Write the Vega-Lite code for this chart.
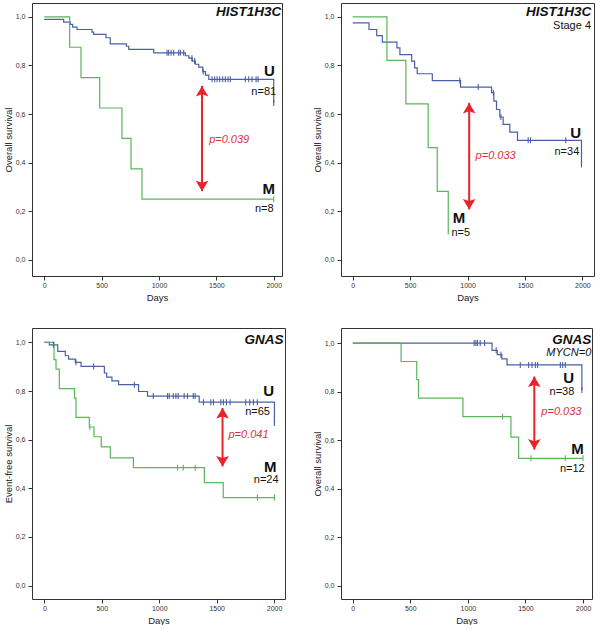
{
"$schema":"https://vega.github.io/schema/vega-lite/v6.json",
"padding":{"left":2,"top":2,"right":0,"bottom":0},
"background":"white",
"config":{"font":"Liberation Sans","view":{"stroke":"#333","strokeWidth":1},
"axis":{"labelFontSize":7,"labelColor":"#333","titleFontSize":9.5,"titleFontWeight":"normal","titleColor":"#222","tickColor":"#333","tickSize":4,"domain":false,"grid":false,"titlePadding":3},
"axisX":{"labelPadding":1,"titlePadding":4},"axisY":{"labelPadding":3,"titlePadding":2}},
"datasets":{
"curves":[
{"p":1,"g":"U","d":0,"s":0.99},{"p":1,"g":"U","d":169,"s":0.978},{"p":1,"g":"U","d":227,"s":0.969},{"p":1,"g":"U","d":247,"s":0.958},{"p":1,"g":"U","d":285,"s":0.948},{"p":1,"g":"U","d":416,"s":0.937},{"p":1,"g":"U","d":430,"s":0.928},{"p":1,"g":"U","d":538,"s":0.914},{"p":1,"g":"U","d":575,"s":0.889},{"p":1,"g":"U","d":715,"s":0.879},{"p":1,"g":"U","d":736,"s":0.866},{"p":1,"g":"U","d":954,"s":0.852},{"p":1,"g":"U","d":1230,"s":0.84},{"p":1,"g":"U","d":1260,"s":0.83},{"p":1,"g":"U","d":1290,"s":0.818},{"p":1,"g":"U","d":1317,"s":0.805},{"p":1,"g":"U","d":1346,"s":0.793},{"p":1,"g":"U","d":1381,"s":0.775},{"p":1,"g":"U","d":1405,"s":0.76},{"p":1,"g":"U","d":1434,"s":0.743},{"p":1,"g":"U","d":2000,"s":0.646},
{"p":1,"g":"M","d":0,"s":1},{"p":1,"g":"M","d":221,"s":0.875},{"p":1,"g":"M","d":320,"s":0.75},{"p":1,"g":"M","d":483,"s":0.625},{"p":1,"g":"M","d":677,"s":0.5},{"p":1,"g":"M","d":756,"s":0.375},{"p":1,"g":"M","d":852,"s":0.25},{"p":1,"g":"M","d":2000,"s":0.25},
{"p":2,"g":"U","d":0,"s":0.975},{"p":2,"g":"U","d":142,"s":0.948},{"p":2,"g":"U","d":209,"s":0.923},{"p":2,"g":"U","d":258,"s":0.896},{"p":2,"g":"U","d":385,"s":0.872},{"p":2,"g":"U","d":411,"s":0.845},{"p":2,"g":"U","d":513,"s":0.818},{"p":2,"g":"U","d":539,"s":0.79},{"p":2,"g":"U","d":562,"s":0.766},{"p":2,"g":"U","d":693,"s":0.738},{"p":2,"g":"U","d":939,"s":0.711},{"p":2,"g":"U","d":1209,"s":0.688},{"p":2,"g":"U","d":1229,"s":0.653},{"p":2,"g":"U","d":1252,"s":0.619},{"p":2,"g":"U","d":1281,"s":0.588},{"p":2,"g":"U","d":1310,"s":0.558},{"p":2,"g":"U","d":1368,"s":0.526},{"p":2,"g":"U","d":1435,"s":0.492},{"p":2,"g":"U","d":1992,"s":0.393},
{"p":2,"g":"M","d":0,"s":1},{"p":2,"g":"M","d":298,"s":0.821},{"p":2,"g":"M","d":463,"s":0.642},{"p":2,"g":"M","d":657,"s":0.462},{"p":2,"g":"M","d":736,"s":0.282},{"p":2,"g":"M","d":832,"s":0.105},
{"p":3,"g":"U","d":0,"s":1},{"p":3,"g":"U","d":43,"s":0.99},{"p":3,"g":"U","d":116,"s":0.963},{"p":3,"g":"U","d":182,"s":0.945},{"p":3,"g":"U","d":211,"s":0.931},{"p":3,"g":"U","d":269,"s":0.918},{"p":3,"g":"U","d":319,"s":0.901},{"p":3,"g":"U","d":522,"s":0.874},{"p":3,"g":"U","d":542,"s":0.857},{"p":3,"g":"U","d":588,"s":0.842},{"p":3,"g":"U","d":646,"s":0.826},{"p":3,"g":"U","d":820,"s":0.798},{"p":3,"g":"U","d":898,"s":0.779},{"p":3,"g":"U","d":1348,"s":0.754},{"p":3,"g":"U","d":2003,"s":0.668},
{"p":3,"g":"M","d":0,"s":1},{"p":3,"g":"M","d":84,"s":0.929},{"p":3,"g":"M","d":101,"s":0.89},{"p":3,"g":"M","d":130,"s":0.81},{"p":3,"g":"M","d":262,"s":0.771},{"p":3,"g":"M","d":275,"s":0.692},{"p":3,"g":"M","d":391,"s":0.652},{"p":3,"g":"M","d":432,"s":0.612},{"p":3,"g":"M","d":495,"s":0.57},{"p":3,"g":"M","d":574,"s":0.525},{"p":3,"g":"M","d":775,"s":0.485},{"p":3,"g":"M","d":1393,"s":0.423},{"p":3,"g":"M","d":1557,"s":0.362},{"p":3,"g":"M","d":2003,"s":0.362},
{"p":4,"g":"U","d":0,"s":1},{"p":4,"g":"U","d":1210,"s":0.97},{"p":4,"g":"U","d":1255,"s":0.952},{"p":4,"g":"U","d":1295,"s":0.935},{"p":4,"g":"U","d":1340,"s":0.91},{"p":4,"g":"U","d":1990,"s":0.806},
{"p":4,"g":"M","d":0,"s":1},{"p":4,"g":"M","d":420,"s":0.924},{"p":4,"g":"M","d":556,"s":0.849},{"p":4,"g":"M","d":571,"s":0.773},{"p":4,"g":"M","d":957,"s":0.697},{"p":4,"g":"M","d":1374,"s":0.612},{"p":4,"g":"M","d":1441,"s":0.525},{"p":4,"g":"M","d":2000,"s":0.525}
],
"cens":[
{"p":1,"g":"U","d":1070,"s":0.852},{"p":1,"g":"U","d":1084,"s":0.852},{"p":1,"g":"U","d":1105,"s":0.852},{"p":1,"g":"U","d":1128,"s":0.852},{"p":1,"g":"U","d":1171,"s":0.852},{"p":1,"g":"U","d":1186,"s":0.852},{"p":1,"g":"U","d":1215,"s":0.852},{"p":1,"g":"U","d":1287,"s":0.83},{"p":1,"g":"U","d":1311,"s":0.818},{"p":1,"g":"U","d":1385,"s":0.775},{"p":1,"g":"U","d":1462,"s":0.743},{"p":1,"g":"U","d":1485,"s":0.743},{"p":1,"g":"U","d":1506,"s":0.743},{"p":1,"g":"U","d":1529,"s":0.743},{"p":1,"g":"U","d":1555,"s":0.743},{"p":1,"g":"U","d":1578,"s":0.743},{"p":1,"g":"U","d":1602,"s":0.743},{"p":1,"g":"U","d":1622,"s":0.743},{"p":1,"g":"U","d":1753,"s":0.743},{"p":1,"g":"U","d":1782,"s":0.743},{"p":1,"g":"U","d":1811,"s":0.743},{"p":1,"g":"U","d":1846,"s":0.743},{"p":1,"g":"U","d":1863,"s":0.743},{"p":1,"g":"U","d":2000,"s":0.646},
{"p":1,"g":"M","d":2000,"s":0.25},
{"p":2,"g":"U","d":933,"s":0.738},{"p":2,"g":"U","d":1093,"s":0.711},{"p":2,"g":"U","d":1225,"s":0.688},{"p":2,"g":"U","d":1290,"s":0.588},{"p":2,"g":"U","d":1528,"s":0.492},{"p":2,"g":"U","d":1548,"s":0.492},{"p":2,"g":"U","d":1855,"s":0.492},{"p":2,"g":"U","d":1992,"s":0.393},
{"p":3,"g":"U","d":78,"s":0.99},{"p":3,"g":"U","d":275,"s":0.918},{"p":3,"g":"U","d":429,"s":0.901},{"p":3,"g":"U","d":783,"s":0.826},{"p":3,"g":"U","d":948,"s":0.779},{"p":3,"g":"U","d":1072,"s":0.779},{"p":3,"g":"U","d":1087,"s":0.779},{"p":3,"g":"U","d":1122,"s":0.779},{"p":3,"g":"U","d":1145,"s":0.779},{"p":3,"g":"U","d":1165,"s":0.779},{"p":3,"g":"U","d":1217,"s":0.779},{"p":3,"g":"U","d":1246,"s":0.779},{"p":3,"g":"U","d":1296,"s":0.779},{"p":3,"g":"U","d":1313,"s":0.779},{"p":3,"g":"U","d":1385,"s":0.754},{"p":3,"g":"U","d":1449,"s":0.754},{"p":3,"g":"U","d":1472,"s":0.754},{"p":3,"g":"U","d":1536,"s":0.754},{"p":3,"g":"U","d":1559,"s":0.754},{"p":3,"g":"U","d":1585,"s":0.754},{"p":3,"g":"U","d":1617,"s":0.754},{"p":3,"g":"U","d":1753,"s":0.754},{"p":3,"g":"U","d":1788,"s":0.754},{"p":3,"g":"U","d":1820,"s":0.754},{"p":3,"g":"U","d":1854,"s":0.754},{"p":3,"g":"U","d":2003,"s":0.668},
{"p":3,"g":"M","d":395,"s":0.652},{"p":3,"g":"M","d":1159,"s":0.485},{"p":3,"g":"M","d":1209,"s":0.485},{"p":3,"g":"M","d":1313,"s":0.485},{"p":3,"g":"M","d":1855,"s":0.362},{"p":3,"g":"M","d":2003,"s":0.362},
{"p":4,"g":"U","d":1055,"s":1},{"p":4,"g":"U","d":1070,"s":1},{"p":4,"g":"U","d":1084,"s":1},{"p":4,"g":"U","d":1107,"s":1},{"p":4,"g":"U","d":1145,"s":1},{"p":4,"g":"U","d":1246,"s":0.97},{"p":4,"g":"U","d":1287,"s":0.952},{"p":4,"g":"U","d":1455,"s":0.91},{"p":4,"g":"U","d":1528,"s":0.91},{"p":4,"g":"U","d":1557,"s":0.91},{"p":4,"g":"U","d":1586,"s":0.91},{"p":4,"g":"U","d":1606,"s":0.91},{"p":4,"g":"U","d":1803,"s":0.91},{"p":4,"g":"U","d":1823,"s":0.91},{"p":4,"g":"U","d":1846,"s":0.91},{"p":4,"g":"U","d":1990,"s":0.806},
{"p":4,"g":"M","d":1301,"s":0.697},{"p":4,"g":"M","d":1548,"s":0.525},{"p":4,"g":"M","d":1846,"s":0.525},{"p":4,"g":"M","d":2000,"s":0.525}
],
"labels":[
{"p":1,"k":"title","t":"HIST1H3C","d":2066,"s":1.003},{"p":1,"k":"big","t":"U","d":1963,"s":0.756},{"p":1,"k":"n","t":"n=81","d":1913,"s":0.678},{"p":1,"k":"big","t":"M","d":1956,"s":0.271},{"p":1,"k":"n","t":"n=8","d":1917,"s":0.199},{"p":1,"k":"pv","t":"p=0.039","d":1437,"s":0.482},
{"p":2,"k":"title","t":"HIST1H3C","d":2078,"s":1.003},{"p":2,"k":"sub","t":"Stage 4","d":2075,"s":0.952},{"p":2,"k":"big","t":"U","d":1942,"s":0.503},{"p":2,"k":"n","t":"n=34","d":1865,"s":0.432},{"p":2,"k":"big","t":"M","d":926,"s":0.152},{"p":2,"k":"n","t":"n=5","d":941,"s":0.1},{"p":2,"k":"pv","t":"p=0.033","d":1070,"s":0.414},
{"p":3,"k":"title","t":"GNAS","d":2081,"s":0.995},{"p":3,"k":"big","t":"U","d":1953,"s":0.781},{"p":3,"k":"n","t":"n=65","d":1856,"s":0.7},{"p":3,"k":"big","t":"M","d":1966,"s":0.469},{"p":3,"k":"n","t":"n=24","d":1931,"s":0.421},{"p":3,"k":"pv","t":"p=0.041","d":1603,"s":0.606},
{"p":4,"k":"title","t":"GNAS","d":2072,"s":0.997},{"p":4,"k":"subi","t":"MYCN=0","d":2072,"s":0.945},{"p":4,"k":"big","t":"U","d":1875,"s":0.835},{"p":4,"k":"n","t":"n=38","d":1817,"s":0.787},{"p":4,"k":"big","t":"M","d":1952,"s":0.543},{"p":4,"k":"n","t":"n=12","d":1907,"s":0.47},{"p":4,"k":"pv","t":"p=0.033","d":1638,"s":0.704}
],
"arrows":[
{"p":1,"d":1375,"s":0.716,"s2":0.283},{"p":2,"d":1014,"s":0.646,"s2":0.208},{"p":3,"d":1551,"s":0.73,"s2":0.49},{"p":4,"d":1577,"s":0.862,"s2":0.561}
],
"heads":[
{"p":1,"d":1375,"s":0.716,"dir":"up"},{"p":1,"d":1375,"s":0.283,"dir":"down"},
{"p":2,"d":1014,"s":0.646,"dir":"up"},{"p":2,"d":1014,"s":0.208,"dir":"down"},
{"p":3,"d":1551,"s":0.73,"dir":"up"},{"p":3,"d":1551,"s":0.49,"dir":"down"},
{"p":4,"d":1577,"s":0.862,"dir":"up"},{"p":4,"d":1577,"s":0.561,"dir":"down"}
]
},
"bounds":"flush",
"columns":2,
"spacing":{"row":52,"column":56},
"concat":[
{"width":250,"height":273,
"encoding":{"x":{"field":"d","type":"quantitative","scale":{"domain":[-107,2072],"nice":false,"zero":false},"axis":{"title":"Days","values":[0,500,1000,1500,2000],"format":"d"}},
"y":{"field":"s","type":"quantitative","scale":{"domain":[-0.066,1.057],"nice":false,"zero":false},"axis":{"title":"Overall survival","values":[0,0.2,0.4,0.6,0.8,1],"labelExpr":"replace(format(datum.value,'.1f'),'.',',')"}}},
"layer":[
{"data":{"name":"curves"},"transform":[{"filter":"datum.p==1"}],"mark":{"type":"line","interpolate":"step-after","strokeWidth":1.2},"encoding":{"color":{"field":"g","type":"nominal","scale":{"domain":["U","M"],"range":["#4b5fa6","#5bb55a"]},"legend":null}}},
{"data":{"name":"cens"},"transform":[{"filter":"datum.p==1"}],"mark":{"type":"tick","orient":"vertical","size":6,"thickness":1.1,"opacity":1},"encoding":{"color":{"field":"g","type":"nominal","scale":{"domain":["U","M"],"range":["#4b5fa6","#5bb55a"]},"legend":null}}},
{"data":{"name":"arrows"},"transform":[{"filter":"datum.p==1"}],"mark":{"type":"rule","color":"#e8232a","strokeWidth":2},"encoding":{"y2":{"field":"s2"}}},
{"data":{"name":"heads"},"transform":[{"filter":"datum.p==1"}],"mark":{"type":"point","filled":true,"size":144,"opacity":1,"color":"#e8232a","strokeWidth":0},"encoding":{"shape":{"field":"dir","type":"nominal","scale":{"domain":["up","down"],"range":["M0,0L1.05,1.75L0,1.4L-1.05,1.75Z","M0,0L1.05,-1.75L0,-1.4L-1.05,-1.75Z"]},"legend":null}}},
{"data":{"name":"labels"},"transform":[{"filter":"datum.p==1 && datum.k=='title'"}],"mark":{"type":"text","align":"right","baseline":"alphabetic","fontSize":13.5,"fontWeight":"bold","fontStyle":"italic","color":"#111"},"encoding":{"text":{"field":"t"}}},
{"data":{"name":"labels"},"transform":[{"filter":"datum.p==1 && datum.k=='big'"}],"mark":{"type":"text","align":"center","baseline":"alphabetic","fontSize":15,"fontWeight":"bold","color":"#111"},"encoding":{"text":{"field":"t"}}},
{"data":{"name":"labels"},"transform":[{"filter":"datum.p==1 && datum.k=='n'"}],"mark":{"type":"text","align":"center","baseline":"alphabetic","fontSize":11,"color":"#111"},"encoding":{"text":{"field":"t"}}},
{"data":{"name":"labels"},"transform":[{"filter":"datum.p==1 && datum.k=='pv'"}],"mark":{"type":"text","align":"left","baseline":"alphabetic","fontSize":11,"fontStyle":"italic","color":"#e0303c"},"encoding":{"text":{"field":"t"}}}
]},
{"width":253,"height":273,
"encoding":{"x":{"field":"d","type":"quantitative","scale":{"domain":[-102,2101],"nice":false,"zero":false},"axis":{"title":"Days","values":[0,500,1000,1500,2000],"format":"d"}},
"y":{"field":"s","type":"quantitative","scale":{"domain":[-0.066,1.057],"nice":false,"zero":false},"axis":{"title":"Overall survival","values":[0,0.2,0.4,0.6,0.8,1],"labelExpr":"replace(format(datum.value,'.1f'),'.',',')"}}},
"layer":[
{"data":{"name":"curves"},"transform":[{"filter":"datum.p==2"}],"mark":{"type":"line","interpolate":"step-after","strokeWidth":1.2},"encoding":{"color":{"field":"g","type":"nominal","scale":{"domain":["U","M"],"range":["#4b5fa6","#5bb55a"]},"legend":null}}},
{"data":{"name":"cens"},"transform":[{"filter":"datum.p==2"}],"mark":{"type":"tick","orient":"vertical","size":6,"thickness":1.1,"opacity":1},"encoding":{"color":{"field":"g","type":"nominal","scale":{"domain":["U","M"],"range":["#4b5fa6","#5bb55a"]},"legend":null}}},
{"data":{"name":"arrows"},"transform":[{"filter":"datum.p==2"}],"mark":{"type":"rule","color":"#e8232a","strokeWidth":2},"encoding":{"y2":{"field":"s2"}}},
{"data":{"name":"heads"},"transform":[{"filter":"datum.p==2"}],"mark":{"type":"point","filled":true,"size":144,"opacity":1,"color":"#e8232a","strokeWidth":0},"encoding":{"shape":{"field":"dir","type":"nominal","scale":{"domain":["up","down"],"range":["M0,0L1.05,1.75L0,1.4L-1.05,1.75Z","M0,0L1.05,-1.75L0,-1.4L-1.05,-1.75Z"]},"legend":null}}},
{"data":{"name":"labels"},"transform":[{"filter":"datum.p==2 && datum.k=='title'"}],"mark":{"type":"text","align":"right","baseline":"alphabetic","fontSize":13.5,"fontWeight":"bold","fontStyle":"italic","color":"#111"},"encoding":{"text":{"field":"t"}}},
{"data":{"name":"labels"},"transform":[{"filter":"datum.p==2 && datum.k=='sub'"}],"mark":{"type":"text","align":"right","baseline":"alphabetic","fontSize":11,"color":"#111"},"encoding":{"text":{"field":"t"}}},
{"data":{"name":"labels"},"transform":[{"filter":"datum.p==2 && datum.k=='big'"}],"mark":{"type":"text","align":"center","baseline":"alphabetic","fontSize":15,"fontWeight":"bold","color":"#111"},"encoding":{"text":{"field":"t"}}},
{"data":{"name":"labels"},"transform":[{"filter":"datum.p==2 && datum.k=='n'"}],"mark":{"type":"text","align":"center","baseline":"alphabetic","fontSize":11,"color":"#111"},"encoding":{"text":{"field":"t"}}},
{"data":{"name":"labels"},"transform":[{"filter":"datum.p==2 && datum.k=='pv'"}],"mark":{"type":"text","align":"left","baseline":"alphabetic","fontSize":11,"fontStyle":"italic","color":"#e0303c"},"encoding":{"text":{"field":"t"}}}
]},
{"width":253,"height":271,
"encoding":{"x":{"field":"d","type":"quantitative","scale":{"domain":[-108,2095],"nice":false,"zero":false},"axis":{"title":"Days","values":[0,500,1000,1500,2000],"format":"d"}},
"y":{"field":"s","type":"quantitative","scale":{"domain":[-0.055,1.059],"nice":false,"zero":false},"axis":{"title":"Event-free survival","values":[0,0.2,0.4,0.6,0.8,1],"labelExpr":"replace(format(datum.value,'.1f'),'.',',')"}}},
"layer":[
{"data":{"name":"curves"},"transform":[{"filter":"datum.p==3"}],"mark":{"type":"line","interpolate":"step-after","strokeWidth":1.2},"encoding":{"color":{"field":"g","type":"nominal","scale":{"domain":["U","M"],"range":["#4b5fa6","#5bb55a"]},"legend":null}}},
{"data":{"name":"cens"},"transform":[{"filter":"datum.p==3"}],"mark":{"type":"tick","orient":"vertical","size":6,"thickness":1.1,"opacity":1},"encoding":{"color":{"field":"g","type":"nominal","scale":{"domain":["U","M"],"range":["#4b5fa6","#5bb55a"]},"legend":null}}},
{"data":{"name":"arrows"},"transform":[{"filter":"datum.p==3"}],"mark":{"type":"rule","color":"#e8232a","strokeWidth":2},"encoding":{"y2":{"field":"s2"}}},
{"data":{"name":"heads"},"transform":[{"filter":"datum.p==3"}],"mark":{"type":"point","filled":true,"size":144,"opacity":1,"color":"#e8232a","strokeWidth":0},"encoding":{"shape":{"field":"dir","type":"nominal","scale":{"domain":["up","down"],"range":["M0,0L1.05,1.75L0,1.4L-1.05,1.75Z","M0,0L1.05,-1.75L0,-1.4L-1.05,-1.75Z"]},"legend":null}}},
{"data":{"name":"labels"},"transform":[{"filter":"datum.p==3 && datum.k=='title'"}],"mark":{"type":"text","align":"right","baseline":"alphabetic","fontSize":13.5,"fontWeight":"bold","fontStyle":"italic","color":"#111"},"encoding":{"text":{"field":"t"}}},
{"data":{"name":"labels"},"transform":[{"filter":"datum.p==3 && datum.k=='big'"}],"mark":{"type":"text","align":"center","baseline":"alphabetic","fontSize":15,"fontWeight":"bold","color":"#111"},"encoding":{"text":{"field":"t"}}},
{"data":{"name":"labels"},"transform":[{"filter":"datum.p==3 && datum.k=='n'"}],"mark":{"type":"text","align":"center","baseline":"alphabetic","fontSize":11,"color":"#111"},"encoding":{"text":{"field":"t"}}},
{"data":{"name":"labels"},"transform":[{"filter":"datum.p==3 && datum.k=='pv'"}],"mark":{"type":"text","align":"left","baseline":"alphabetic","fontSize":11,"fontStyle":"italic","color":"#e0303c"},"encoding":{"text":{"field":"t"}}}
]},
{"width":251,"height":271,
"encoding":{"x":{"field":"d","type":"quantitative","scale":{"domain":[-102,2078],"nice":false,"zero":false},"axis":{"title":"Days","values":[0,500,1000,1500,2000],"format":"d"}},
"y":{"field":"s","type":"quantitative","scale":{"domain":[-0.055,1.062],"nice":false,"zero":false},"axis":{"title":"Overall survival","values":[0,0.2,0.4,0.6,0.8,1],"labelExpr":"replace(format(datum.value,'.1f'),'.',',')"}}},
"layer":[
{"data":{"name":"curves"},"transform":[{"filter":"datum.p==4"}],"mark":{"type":"line","interpolate":"step-after","strokeWidth":1.2},"encoding":{"color":{"field":"g","type":"nominal","scale":{"domain":["U","M"],"range":["#4b5fa6","#5bb55a"]},"legend":null}}},
{"data":{"name":"cens"},"transform":[{"filter":"datum.p==4"}],"mark":{"type":"tick","orient":"vertical","size":6,"thickness":1.1,"opacity":1},"encoding":{"color":{"field":"g","type":"nominal","scale":{"domain":["U","M"],"range":["#4b5fa6","#5bb55a"]},"legend":null}}},
{"data":{"name":"arrows"},"transform":[{"filter":"datum.p==4"}],"mark":{"type":"rule","color":"#e8232a","strokeWidth":2},"encoding":{"y2":{"field":"s2"}}},
{"data":{"name":"heads"},"transform":[{"filter":"datum.p==4"}],"mark":{"type":"point","filled":true,"size":144,"opacity":1,"color":"#e8232a","strokeWidth":0},"encoding":{"shape":{"field":"dir","type":"nominal","scale":{"domain":["up","down"],"range":["M0,0L1.05,1.75L0,1.4L-1.05,1.75Z","M0,0L1.05,-1.75L0,-1.4L-1.05,-1.75Z"]},"legend":null}}},
{"data":{"name":"labels"},"transform":[{"filter":"datum.p==4 && datum.k=='title'"}],"mark":{"type":"text","align":"right","baseline":"alphabetic","fontSize":13.5,"fontWeight":"bold","fontStyle":"italic","color":"#111"},"encoding":{"text":{"field":"t"}}},
{"data":{"name":"labels"},"transform":[{"filter":"datum.p==4 && datum.k=='subi'"}],"mark":{"type":"text","align":"right","baseline":"alphabetic","fontSize":11,"fontStyle":"italic","color":"#111"},"encoding":{"text":{"field":"t"}}},
{"data":{"name":"labels"},"transform":[{"filter":"datum.p==4 && datum.k=='big'"}],"mark":{"type":"text","align":"center","baseline":"alphabetic","fontSize":15,"fontWeight":"bold","color":"#111"},"encoding":{"text":{"field":"t"}}},
{"data":{"name":"labels"},"transform":[{"filter":"datum.p==4 && datum.k=='n'"}],"mark":{"type":"text","align":"center","baseline":"alphabetic","fontSize":11,"color":"#111"},"encoding":{"text":{"field":"t"}}},
{"data":{"name":"labels"},"transform":[{"filter":"datum.p==4 && datum.k=='pv'"}],"mark":{"type":"text","align":"left","baseline":"alphabetic","fontSize":11,"fontStyle":"italic","color":"#e0303c"},"encoding":{"text":{"field":"t"}}}
]}
]
}
